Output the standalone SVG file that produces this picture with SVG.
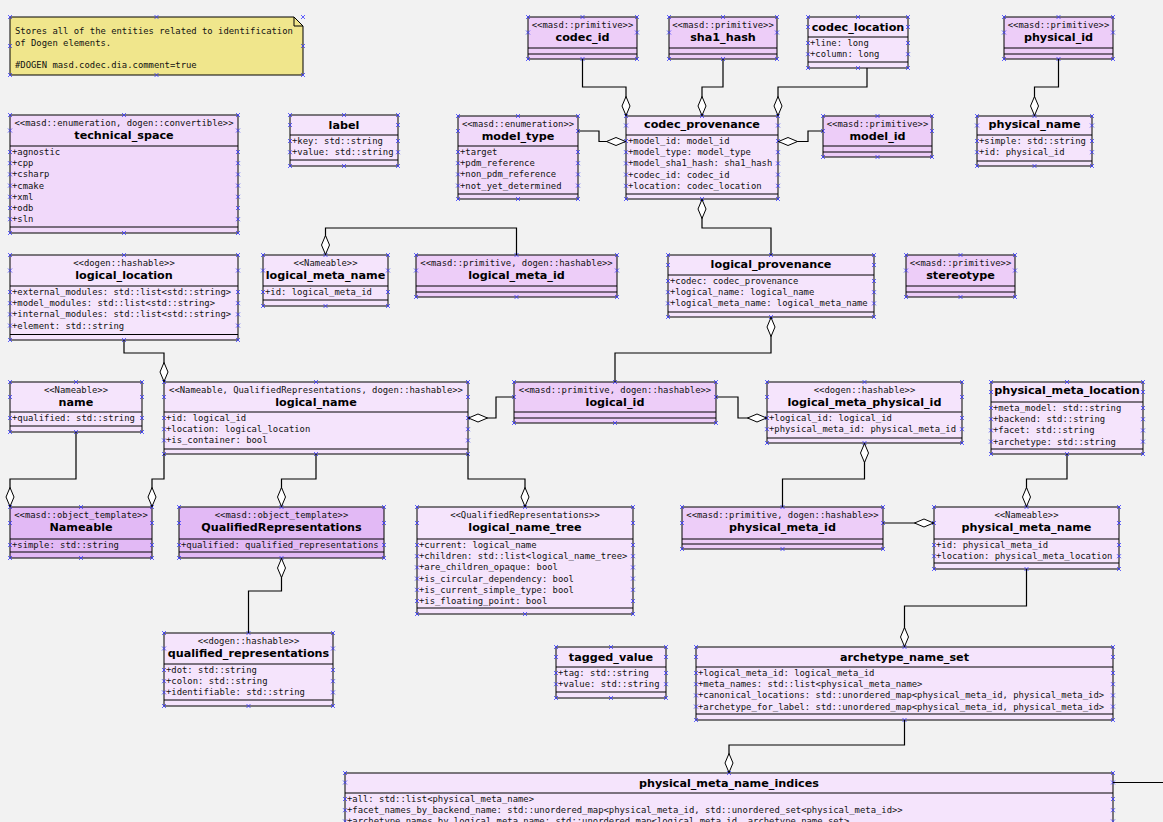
<svg xmlns="http://www.w3.org/2000/svg" width="1163" height="822" viewBox="0 0 1163 822">
<style>
.bg{fill:#f2f2f2}
.cls rect,.cls path.b{fill:#f5e4fc;stroke:#000;stroke-width:1}
.prim rect{fill:#edcdf8;stroke:#000;stroke-width:1}
.enum rect{fill:#f1d9fa;stroke:#000;stroke-width:1}
.tpl rect{fill:#e2b9f5;stroke:#000;stroke-width:1}
line{stroke:#000;stroke-width:1}
.st{font-family:"DejaVu Sans Mono",monospace;font-size:8.9px;text-anchor:middle;fill:#111}
.nm{font-family:"DejaVu Sans",sans-serif;font-weight:bold;font-size:11.2px;text-anchor:middle;fill:#000}
.at{font-family:"DejaVu Sans Mono",monospace;font-size:8.9px;fill:#111}
.cp{fill:none;stroke:none;marker-start:url(#cp);marker-mid:url(#cp);marker-end:url(#cp)}
#connectors path{fill:none;stroke:#000;stroke-width:1.2;marker-start:url(#dia)}
#connectors path.plain{marker-start:none}
</style>
<defs>
<marker id="cp" markerUnits="userSpaceOnUse" markerWidth="6" markerHeight="6" viewBox="-3 -3 6 6" refX="0" refY="0" orient="0" overflow="visible">
<path d="M-2,-2L2,2M-2,2L2,-2" stroke="#3a3aff" stroke-width="0.8" fill="none"/>
</marker>
<marker id="dia" markerUnits="userSpaceOnUse" markerWidth="22" markerHeight="10" viewBox="0 -5 22 10" refX="0" refY="0" orient="auto" overflow="visible">
<path d="M0.5,0L10,-4L19.5,0L10,4Z" fill="#fff" stroke="#000" stroke-width="1"/>
</marker>
</defs>
<rect class="bg" x="0" y="0" width="1163" height="822"/>

<g id="note">
<path d="M10,17H294L303,26V75H10Z" fill="#f0e68c" stroke="#000" stroke-width="1"/>
<path d="M294,17V26H303" fill="none" stroke="#000" stroke-width="1"/>
<text class="at" x="15" y="34">Stores all of the entities related to identification</text>
<text class="at" x="15" y="46">of Dogen elements.</text>
<text class="at" x="15" y="68">#DOGEN masd.codec.dia.comment=true</text>
<path class="cp" d="M10,17L10,46L10,75L156.5,75L303,75L303,46L303,17L156.5,17"/>
</g>

<g id="technical_space" class="enum">
<rect x="10" y="115" width="228" height="118"/>
<line x1="10" y1="146" x2="238" y2="146"/><line x1="10" y1="227" x2="238" y2="227"/>
<text class="st" x="124" y="126">&lt;&lt;masd::enumeration, dogen::convertible&gt;&gt;</text>
<text class="nm" x="124" y="139">technical_space</text>
<text class="at" x="12" y="155">+agnostic</text>
<text class="at" x="12" y="166.2">+cpp</text>
<text class="at" x="12" y="177.4">+csharp</text>
<text class="at" x="12" y="188.6">+cmake</text>
<text class="at" x="12" y="199.8">+xml</text>
<text class="at" x="12" y="211">+odb</text>
<text class="at" x="12" y="222.2">+sln</text>
<path class="cp" d="M10,115L10,130.5L10,152L10,163.2L10,174.4L10,185.6L10,196.8L10,208L10,219.2L10,233L124,233L238,233L238,219.2L238,208L238,196.8L238,185.6L238,174.4L238,163.2L238,152L238,130.5L238,115L124,115"/>
</g>

<g id="label" class="cls">
<rect x="290" y="115" width="108" height="51"/>
<line x1="290" y1="135" x2="398" y2="135"/><line x1="290" y1="160" x2="398" y2="160"/>
<text class="nm" x="344" y="129">label</text>
<text class="at" x="292" y="144">+key: std::string</text>
<text class="at" x="292" y="155.2">+value: std::string</text>
<path class="cp" d="M290,115L290,125L290,141L290,152.2L290,166L344,166L398,166L398,152.2L398,141L398,125L398,115L344,115"/>
</g>

<g id="codec_id" class="prim">
<rect x="528" y="17" width="109" height="42"/>
<line x1="528" y1="48" x2="637" y2="48"/><line x1="528" y1="54" x2="637" y2="54"/>
<text class="st" x="582.5" y="28">&lt;&lt;masd::primitive&gt;&gt;</text>
<text class="nm" x="582.5" y="41">codec_id</text>
<path class="cp" d="M528,17L528,32.5L528,59L582.5,59L637,59L637,32.5L637,17L582.5,17"/>
</g>

<g id="sha1_hash" class="prim">
<rect x="669" y="17" width="108" height="42"/>
<line x1="669" y1="48" x2="777" y2="48"/><line x1="669" y1="54" x2="777" y2="54"/>
<text class="st" x="723" y="28">&lt;&lt;masd::primitive&gt;&gt;</text>
<text class="nm" x="723" y="41">sha1_hash</text>
<path class="cp" d="M669,17L669,32.5L669,59L723,59L777,59L777,32.5L777,17L723,17"/>
</g>

<g id="codec_location" class="cls">
<rect x="808" y="17" width="100" height="51"/>
<line x1="808" y1="37" x2="908" y2="37"/><line x1="808" y1="62" x2="908" y2="62"/>
<text class="nm" x="858" y="31">codec_location</text>
<text class="at" x="810" y="46">+line: long</text>
<text class="at" x="810" y="57.2">+column: long</text>
<path class="cp" d="M808,17L808,27L808,43L808,54.2L808,68L858,68L908,68L908,54.2L908,43L908,27L908,17L858,17"/>
</g>

<g id="physical_id" class="prim">
<rect x="1004" y="17" width="109" height="42"/>
<line x1="1004" y1="48" x2="1113" y2="48"/><line x1="1004" y1="54" x2="1113" y2="54"/>
<text class="st" x="1058.5" y="28">&lt;&lt;masd::primitive&gt;&gt;</text>
<text class="nm" x="1058.5" y="41">physical_id</text>
<path class="cp" d="M1004,17L1004,32.5L1004,59L1058.5,59L1113,59L1113,32.5L1113,17L1058.5,17"/>
</g>

<g id="model_type" class="enum">
<rect x="458" y="116" width="120" height="83"/>
<line x1="458" y1="146" x2="578" y2="146"/><line x1="458" y1="194" x2="578" y2="194"/>
<text class="st" x="518" y="127">&lt;&lt;masd::enumeration&gt;&gt;</text>
<text class="nm" x="518" y="140">model_type</text>
<text class="at" x="460" y="155">+target</text>
<text class="at" x="460" y="166.2">+pdm_reference</text>
<text class="at" x="460" y="177.4">+non_pdm_reference</text>
<text class="at" x="460" y="188.6">+not_yet_determined</text>
<path class="cp" d="M458,116L458,131L458,152L458,163.2L458,174.4L458,185.6L458,199L518,199L578,199L578,185.6L578,174.4L578,163.2L578,152L578,131L578,116L518,116"/>
</g>

<g id="codec_provenance" class="cls">
<rect x="626" y="116" width="152" height="83"/>
<line x1="626" y1="135" x2="778" y2="135"/><line x1="626" y1="194" x2="778" y2="194"/>
<text class="nm" x="702" y="128">codec_provenance</text>
<text class="at" x="628" y="144">+model_id: model_id</text>
<text class="at" x="628" y="155.2">+model_type: model_type</text>
<text class="at" x="628" y="166.4">+model_sha1_hash: sha1_hash</text>
<text class="at" x="628" y="177.6">+codec_id: codec_id</text>
<text class="at" x="628" y="188.8">+location: codec_location</text>
<path class="cp" d="M626,116L626,125.5L626,141L626,152.2L626,163.4L626,174.6L626,185.8L626,199L702,199L778,199L778,185.8L778,174.6L778,163.4L778,152.2L778,141L778,125.5L778,116L702,116"/>
</g>

<g id="model_id" class="prim">
<rect x="823" y="116" width="109" height="41"/>
<line x1="823" y1="146" x2="932" y2="146"/><line x1="823" y1="152" x2="932" y2="152"/>
<text class="st" x="877.5" y="127">&lt;&lt;masd::primitive&gt;&gt;</text>
<text class="nm" x="877.5" y="140">model_id</text>
<path class="cp" d="M823,116L823,131L823,157L877.5,157L932,157L932,131L932,116L877.5,116"/>
</g>

<g id="physical_name" class="cls">
<rect x="977" y="116" width="115" height="50"/>
<line x1="977" y1="135" x2="1092" y2="135"/><line x1="977" y1="161" x2="1092" y2="161"/>
<text class="nm" x="1034.5" y="128">physical_name</text>
<text class="at" x="979" y="144">+simple: std::string</text>
<text class="at" x="979" y="155.2">+id: physical_id</text>
<path class="cp" d="M977,116L977,125.5L977,141L977,152.2L977,166L1034.5,166L1092,166L1092,152.2L1092,141L1092,125.5L1092,116L1034.5,116"/>
</g>

<g id="logical_location" class="cls">
<rect x="10" y="255" width="228" height="85"/>
<line x1="10" y1="286" x2="238" y2="286"/><line x1="10" y1="334.5" x2="238" y2="334.5"/>
<text class="st" x="124" y="266">&lt;&lt;dogen::hashable&gt;&gt;</text>
<text class="nm" x="124" y="279">logical_location</text>
<text class="at" x="12" y="295">+external_modules: std::list&lt;std::string&gt;</text>
<text class="at" x="12" y="306.2">+model_modules: std::list&lt;std::string&gt;</text>
<text class="at" x="12" y="317.4">+internal_modules: std::list&lt;std::string&gt;</text>
<text class="at" x="12" y="328.6">+element: std::string</text>
<path class="cp" d="M10,255L10,270.5L10,292L10,303.2L10,314.4L10,325.6L10,340L124,340L238,340L238,325.6L238,314.4L238,303.2L238,292L238,270.5L238,255L124,255"/>
</g>

<g id="logical_meta_name" class="cls">
<rect x="263" y="255" width="125" height="51"/>
<line x1="263" y1="286" x2="388" y2="286"/><line x1="263" y1="300" x2="388" y2="300"/>
<text class="st" x="325.5" y="266">&lt;&lt;Nameable&gt;&gt;</text>
<text class="nm" x="325.5" y="279">logical_meta_name</text>
<text class="at" x="265" y="295">+id: logical_meta_id</text>
<path class="cp" d="M263,255L263,270.5L263,292L263,306L325.5,306L388,306L388,292L388,270.5L388,255L325.5,255"/>
</g>

<g id="logical_meta_id" class="prim">
<rect x="416" y="255" width="201" height="42"/>
<line x1="416" y1="286" x2="617" y2="286"/><line x1="416" y1="292" x2="617" y2="292"/>
<text class="st" x="516.5" y="266">&lt;&lt;masd::primitive, dogen::hashable&gt;&gt;</text>
<text class="nm" x="516.5" y="279">logical_meta_id</text>
<path class="cp" d="M416,255L416,270.5L416,297L516.5,297L617,297L617,270.5L617,255L516.5,255"/>
</g>

<g id="logical_provenance" class="cls">
<rect x="668" y="255" width="206" height="62"/>
<line x1="668" y1="275" x2="874" y2="275"/><line x1="668" y1="312" x2="874" y2="312"/>
<text class="nm" x="771" y="268">logical_provenance</text>
<text class="at" x="670" y="284">+codec: codec_provenance</text>
<text class="at" x="670" y="295.2">+logical_name: logical_name</text>
<text class="at" x="670" y="306.4">+logical_meta_name: logical_meta_name</text>
<path class="cp" d="M668,255L668,265L668,281L668,292.2L668,303.4L668,317L771,317L874,317L874,303.4L874,292.2L874,281L874,265L874,255L771,255"/>
</g>

<g id="stereotype" class="prim">
<rect x="906" y="255" width="109" height="42"/>
<line x1="906" y1="286" x2="1015" y2="286"/><line x1="906" y1="292" x2="1015" y2="292"/>
<text class="st" x="960.5" y="266">&lt;&lt;masd::primitive&gt;&gt;</text>
<text class="nm" x="960.5" y="279">stereotype</text>
<path class="cp" d="M906,255L906,270.5L906,297L960.5,297L1015,297L1015,270.5L1015,255L960.5,255"/>
</g>

<g id="name" class="cls">
<rect x="10" y="382" width="132" height="50"/>
<line x1="10" y1="412" x2="142" y2="412"/><line x1="10" y1="426" x2="142" y2="426"/>
<text class="st" x="76" y="393">&lt;&lt;Nameable&gt;&gt;</text>
<text class="nm" x="76" y="406">name</text>
<text class="at" x="12" y="421">+qualified: std::string</text>
<path class="cp" d="M10,382L10,397L10,418L10,432L76,432L142,432L142,418L142,397L142,382L76,382"/>
</g>

<g id="logical_name" class="cls">
<rect x="164" y="382" width="304" height="72"/>
<line x1="164" y1="412" x2="468" y2="412"/><line x1="164" y1="449" x2="468" y2="449"/>
<text class="st" x="316" y="393">&lt;&lt;Nameable, QualifiedRepresentations, dogen::hashable&gt;&gt;</text>
<text class="nm" x="316" y="406">logical_name</text>
<text class="at" x="166" y="421">+id: logical_id</text>
<text class="at" x="166" y="432.2">+location: logical_location</text>
<text class="at" x="166" y="443.4">+is_container: bool</text>
<path class="cp" d="M164,382L164,397L164,418L164,429.2L164,440.4L164,454L316,454L468,454L468,440.4L468,429.2L468,418L468,397L468,382L316,382"/>
</g>

<g id="logical_id" class="prim">
<rect x="514" y="382" width="202" height="41"/>
<line x1="514" y1="412" x2="716" y2="412"/><line x1="514" y1="418" x2="716" y2="418"/>
<text class="st" x="615" y="393">&lt;&lt;masd::primitive, dogen::hashable&gt;&gt;</text>
<text class="nm" x="615" y="406">logical_id</text>
<path class="cp" d="M514,382L514,397L514,423L615,423L716,423L716,397L716,382L615,382"/>
</g>

<g id="logical_meta_physical_id" class="cls">
<rect x="767" y="382" width="195" height="61"/>
<line x1="767" y1="412" x2="962" y2="412"/><line x1="767" y1="438" x2="962" y2="438"/>
<text class="st" x="864.5" y="393">&lt;&lt;dogen::hashable&gt;&gt;</text>
<text class="nm" x="864.5" y="406">logical_meta_physical_id</text>
<text class="at" x="769" y="421">+logical_id: logical_id</text>
<text class="at" x="769" y="432.2">+physical_meta_id: physical_meta_id</text>
<path class="cp" d="M767,382L767,397L767,418L767,429.2L767,443L864.5,443L962,443L962,429.2L962,418L962,397L962,382L864.5,382"/>
</g>

<g id="physical_meta_location" class="cls">
<rect x="991" y="382" width="152" height="72"/>
<line x1="991" y1="402" x2="1143" y2="402"/><line x1="991" y1="449" x2="1143" y2="449"/>
<text class="nm" x="1067" y="394">physical_meta_location</text>
<text class="at" x="993" y="411">+meta_model: std::string</text>
<text class="at" x="993" y="422.2">+backend: std::string</text>
<text class="at" x="993" y="433.4">+facet: std::string</text>
<text class="at" x="993" y="444.6">+archetype: std::string</text>
<path class="cp" d="M991,382L991,392L991,408L991,419.2L991,430.4L991,441.6L991,454L1067,454L1143,454L1143,441.6L1143,430.4L1143,419.2L1143,408L1143,392L1143,382L1067,382"/>
</g>

<g id="Nameable" class="tpl">
<rect x="10" y="507" width="142" height="51"/>
<line x1="10" y1="539" x2="152" y2="539"/><line x1="10" y1="552" x2="152" y2="552"/>
<text class="st" x="81" y="518">&lt;&lt;masd::object_template&gt;&gt;</text>
<text class="nm" x="81" y="531">Nameable</text>
<text class="at" x="12" y="548">+simple: std::string</text>
<path class="cp" d="M10,507L10,523L10,545L10,558L81,558L152,558L152,545L152,523L152,507L81,507"/>
</g>

<g id="QualifiedRepresentations" class="tpl">
<rect x="179" y="507" width="205" height="51"/>
<line x1="179" y1="539" x2="384" y2="539"/><line x1="179" y1="552" x2="384" y2="552"/>
<text class="st" x="281.5" y="518">&lt;&lt;masd::object_template&gt;&gt;</text>
<text class="nm" x="281.5" y="531">QualifiedRepresentations</text>
<text class="at" x="181" y="548">+qualified: qualified_representations</text>
<path class="cp" d="M179,507L179,523L179,545L179,558L281.5,558L384,558L384,545L384,523L384,507L281.5,507"/>
</g>

<g id="logical_name_tree" class="cls">
<rect x="417" y="507" width="216" height="107"/>
<line x1="417" y1="539" x2="633" y2="539"/><line x1="417" y1="608" x2="633" y2="608"/>
<text class="st" x="525" y="518">&lt;&lt;QualifiedRepresentations&gt;&gt;</text>
<text class="nm" x="525" y="531">logical_name_tree</text>
<text class="at" x="419" y="548">+current: logical_name</text>
<text class="at" x="419" y="559.2">+children: std::list&lt;logical_name_tree&gt;</text>
<text class="at" x="419" y="570.4">+are_children_opaque: bool</text>
<text class="at" x="419" y="581.6">+is_circular_dependency: bool</text>
<text class="at" x="419" y="592.8">+is_current_simple_type: bool</text>
<text class="at" x="419" y="604">+is_floating_point: bool</text>
<path class="cp" d="M417,507L417,523L417,545L417,556.2L417,567.4L417,578.6L417,589.8L417,601L417,614L525,614L633,614L633,601L633,589.8L633,578.6L633,567.4L633,556.2L633,545L633,523L633,507L525,507"/>
</g>

<g id="physical_meta_id" class="prim">
<rect x="682" y="507" width="201" height="42"/>
<line x1="682" y1="539" x2="883" y2="539"/><line x1="682" y1="544" x2="883" y2="544"/>
<text class="st" x="782.5" y="518">&lt;&lt;masd::primitive, dogen::hashable&gt;&gt;</text>
<text class="nm" x="782.5" y="531">physical_meta_id</text>
<path class="cp" d="M682,507L682,523L682,549L782.5,549L883,549L883,523L883,507L782.5,507"/>
</g>

<g id="physical_meta_name" class="cls">
<rect x="934" y="507" width="185" height="62"/>
<line x1="934" y1="539" x2="1119" y2="539"/><line x1="934" y1="563" x2="1119" y2="563"/>
<text class="st" x="1026.5" y="518">&lt;&lt;Nameable&gt;&gt;</text>
<text class="nm" x="1026.5" y="531">physical_meta_name</text>
<text class="at" x="936" y="548">+id: physical_meta_id</text>
<text class="at" x="936" y="559.2">+location: physical_meta_location</text>
<path class="cp" d="M934,507L934,523L934,545L934,556.2L934,569L1026.5,569L1119,569L1119,556.2L1119,545L1119,523L1119,507L1026.5,507"/>
</g>

<g id="qualified_representations" class="cls">
<rect x="164" y="633" width="169" height="73"/>
<line x1="164" y1="664" x2="333" y2="664"/><line x1="164" y1="700" x2="333" y2="700"/>
<text class="st" x="248.5" y="644">&lt;&lt;dogen::hashable&gt;&gt;</text>
<text class="nm" x="248.5" y="657">qualified_representations</text>
<text class="at" x="166" y="673">+dot: std::string</text>
<text class="at" x="166" y="684.2">+colon: std::string</text>
<text class="at" x="166" y="695.4">+identifiable: std::string</text>
<path class="cp" d="M164,633L164,648.5L164,670L164,681.2L164,692.4L164,706L248.5,706L333,706L333,692.4L333,681.2L333,670L333,648.5L333,633L248.5,633"/>
</g>

<g id="tagged_value" class="cls">
<rect x="556" y="647" width="110" height="51"/>
<line x1="556" y1="667" x2="666" y2="667"/><line x1="556" y1="692" x2="666" y2="692"/>
<text class="nm" x="611" y="661">tagged_value</text>
<text class="at" x="558" y="676">+tag: std::string</text>
<text class="at" x="558" y="687.2">+value: std::string</text>
<path class="cp" d="M556,647L556,657L556,673L556,684.2L556,698L611,698L666,698L666,684.2L666,673L666,657L666,647L611,647"/>
</g>

<g id="archetype_name_set" class="cls">
<rect x="696" y="647" width="417" height="73"/>
<line x1="696" y1="667" x2="1113" y2="667"/><line x1="696" y1="714" x2="1113" y2="714"/>
<text class="nm" x="904.5" y="661">archetype_name_set</text>
<text class="at" x="698" y="676">+logical_meta_id: logical_meta_id</text>
<text class="at" x="698" y="687.2">+meta_names: std::list&lt;physical_meta_name&gt;</text>
<text class="at" x="698" y="698.4">+canonical_locations: std::unordered_map&lt;physical_meta_id, physical_meta_id&gt;</text>
<text class="at" x="698" y="709.6">+archetype_for_label: std::unordered_map&lt;physical_meta_id, physical_meta_id&gt;</text>
<path class="cp" d="M696,647L696,657L696,673L696,684.2L696,695.4L696,706.6L696,720L904.5,720L1113,720L1113,706.6L1113,695.4L1113,684.2L1113,673L1113,657L1113,647L904.5,647"/>
</g>

<g id="physical_meta_name_indices" class="cls">
<rect x="345" y="773" width="768" height="60"/>
<line x1="345" y1="793" x2="1113" y2="793"/>
<text class="nm" x="729" y="787">physical_meta_name_indices</text>
<text class="at" x="347" y="802">+all: std::list&lt;physical_meta_name&gt;</text>
<text class="at" x="347" y="813.2">+facet_names_by_backend_name: std::unordered_map&lt;physical_meta_id, std::unordered_set&lt;physical_meta_id&gt;&gt;</text>
<text class="at" x="347" y="824.4">+archetype_names_by_logical_meta_name: std::unordered_map&lt;logical_meta_id, archetype_name_set&gt;</text>
<path class="cp" d="M345,821.4L345,810.2L345,799L345,782.5L345,773L729,773L1113,773L1113,782.5L1113,799L1113,810.2L1113,821.4"/>
</g>

<g id="connectors">
<path d="M626,116V87H582.5V59"/>
<path d="M702,116V87H723V59"/>
<path d="M778,116V87H867V68"/>
<path d="M626,141.5H599V131H578"/>
<path d="M778,141.5H808V131H823"/>
<path d="M1034.5,116V87H1058.5V59"/>
<path d="M702,199V228H771V255"/>
<path d="M325.5,255V228H516.5V255"/>
<path d="M164,382V353H124V340"/>
<path d="M771,317V353H615V382"/>
<path d="M468,418H496V397H514"/>
<path d="M767,418H738V397H716"/>
<path d="M10,507V479H76V432"/>
<path d="M152,507V479H164V454"/>
<path d="M281.5,507V479H316V454"/>
<path d="M525,507V479H468V454"/>
<path d="M281.5,558V591H248.5V633"/>
<path d="M864.5,443V479H782.5V507"/>
<path d="M934,523H883"/>
<path d="M1026.5,507V479H1067V454"/>
<path d="M904.5,647V606H1026.5V569"/>
<path d="M729,773V745H904.5V720"/>
<path class="plain" d="M1113,782.5H1163"/>
</g>
</svg>
